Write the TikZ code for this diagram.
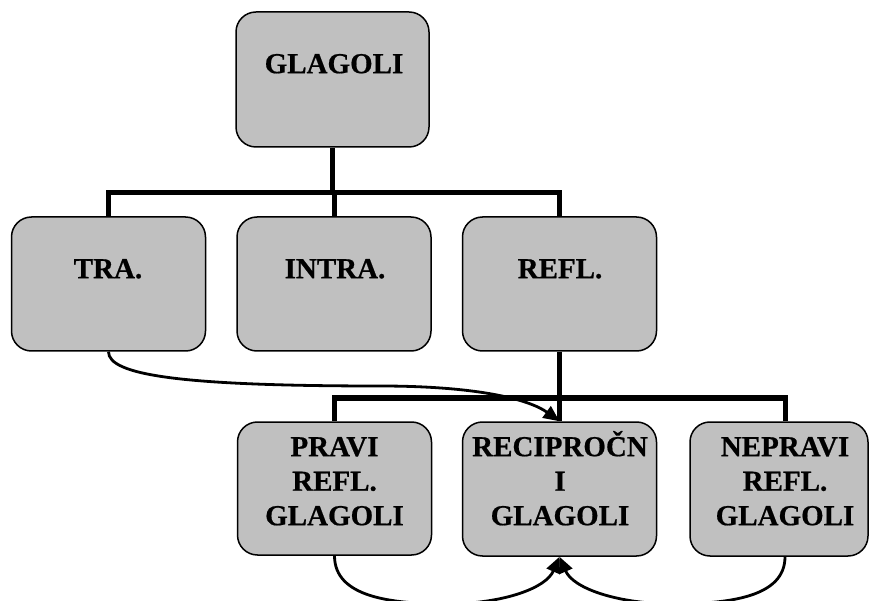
\documentclass[tikz,border=0pt]{standalone}
\usepackage{fontspec}
\setmainfont{Liberation Serif}[BoldFeatures={FakeBold=0.6}]
\usetikzlibrary{arrows.meta}
\definecolor{boxgray}{RGB}{192,192,192}
% fixed ascent so every label hangs from its first baseline
\newcommand\boxstrut{\rule{0pt}{28pt}}
\tikzset{
  box/.style={draw=black, line width=1.5pt, fill=boxgray, rounded corners=20pt,
              inner sep=0pt, minimum width=194pt, minimum height=134pt},
  lbl/.style={anchor=north, inner sep=0pt, align=center,
              font=\fontsize{29}{34.5}\selectfont\bfseries},
  bus/.style={line width=5pt},
  link/.style={line width=2.8pt, -{Triangle[length=16pt,width=14pt]}},
}
\begin{document}
\begin{tikzpicture}[x=1pt, y=-1pt]
  \useasboundingbox (0,0) rectangle (870,601);
  \clip (0,0) rectangle (870,601);

  % boxes
  \node[box, minimum width=193pt, minimum height=135pt] (glagoli) at (332.5,79.5) {};
  \node[box] (tra)    at (108.5,284) {};
  \node[box] (intra)  at (334,284)   {};
  \node[box] (refl)   at (559.5,284) {};
  \node[box, minimum height=133pt] (pravi) at (334.5,488.5) {};
  \node[box] (recip)  at (559.5,489) {};
  \node[box, minimum width=178pt] (nepravi) at (779,489) {};

  % labels (north = first baseline - 28)
  \node[lbl] (glagolit) at (334,45)  {\boxstrut GLAGOLI};
  \node[lbl] (trat)     at (108,250) {\boxstrut TRA.};
  \node[lbl] (intrat)   at (335,250) {\boxstrut INTRA.};
  \node[lbl] (reflt)    at (560,250) {\boxstrut REFL.};
  \node[lbl] (pravit)   at (334.5,428) {\boxstrut PRAVI\\REFL.\\GLAGOLI};
  \node[lbl] (recipt)   at (560,428) {\boxstrut RECIPROČN\\I\\GLAGOLI};
  \node[lbl] (nepravit) at (785,428) {\boxstrut NEPRAVI\\REFL.\\GLAGOLI};

  % tree connectors
  \coordinate (bus1) at (333,193);
  \coordinate (bus2) at (560,398);
  \draw[bus] (glagoli.south) -- (glagoli.south |- bus1);
  \draw[bus] (tra.north) |- (bus1) -| (refl.north);
  \draw[bus] (intra.north) -- (intra.north |- bus1);
  \draw[bus] (refl.south) -- (refl.south |- bus2);
  \draw[bus] (pravi.north) |- (bus2) -| (nepravi.north -| nepravit);
  \draw[bus] (recip.north) -- (recip.north |- bus2);

  % curved arrows
  \draw[link] (tra.south) .. controls (108.5,375) and (180,386) .. (380,386)
              .. controls (480,386) and (530,400) .. (recip.north);
  \draw[link] (pravi.south) .. controls (334.5,597) and (390,604) .. (450,604)
              .. controls (505,603) and (546,588) .. (recip.south);
  \draw[link] (nepravi.south -| nepravit) .. controls (785,597) and (730,604) .. (670,604)
              .. controls (615,603) and (573,588) .. (recip.south);
\end{tikzpicture}
\end{document}
